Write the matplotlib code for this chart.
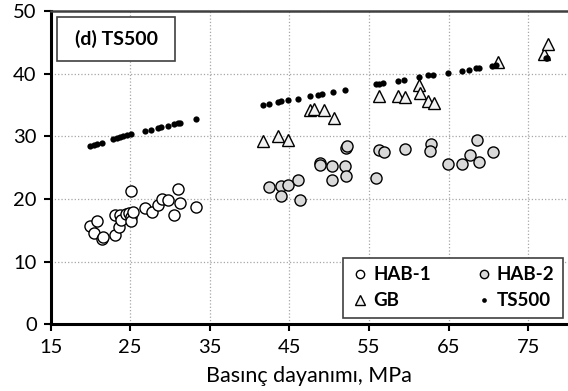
import matplotlib.pyplot as plt
from matplotlib.patches import Rectangle

plt.rcParams['font.family'] = ['Lato', 'DejaVu Sans']

# HAB-1 (open circles)
hab1_x = [20.0, 20.4, 20.8, 21.4, 21.6, 23.1, 23.1, 23.6, 23.7, 23.9, 24.5, 24.8,
          25.1, 25.1, 25.4, 25.1, 26.9, 27.7, 28.5, 28.95, 29.8, 30.5, 31.3, 31.0, 33.3]
hab1_y = [15.7, 14.5, 16.5, 13.6, 13.9, 14.3, 17.5, 15.6, 17.5, 16.7, 17.6, 17.8,
          17.2, 16.5, 17.9, 21.3, 18.5, 17.9, 19.1, 20.0, 19.8, 17.4, 19.4, 21.6, 18.8]

# HAB-2 (grey circles)
hab2_x = [42.5, 44.0, 44.0, 44.8, 46.1, 46.3, 48.8, 48.9, 50.4, 50.4, 52.0, 52.1, 52.1,
          52.2, 55.9, 56.3, 56.9, 59.5, 62.8, 62.7, 64.9, 66.7, 67.7, 68.8, 68.6, 70.6]
hab2_y = [21.9, 22.1, 20.5, 22.3, 23.1, 19.8, 25.8, 25.4, 25.3, 23.0, 25.2, 23.7, 28.1,
          28.5, 23.4, 27.9, 27.5, 28.0, 28.8, 27.6, 25.6, 25.6, 27.1, 25.9, 29.5, 27.5]

# GB (triangles)
gb_x = [41.7, 43.6, 44.8, 47.6, 48.1, 49.3, 50.6, 56.3, 58.7, 59.5, 61.3, 61.4,
        62.4, 63.2, 71.2, 77.0, 77.5]
gb_y = [29.3, 30.0, 29.4, 34.3, 34.4, 34.3, 32.9, 36.4, 36.5, 36.3, 38.3, 36.9,
        35.6, 35.3, 41.9, 43.2, 44.7]

# TS500 (small dots)
ts_x = [19.96, 20.4, 20.8, 21.4, 22.9, 23.3, 23.7, 24.1, 24.6, 25.1, 26.9, 27.6, 28.5,
        28.9, 29.7, 30.5, 31.0, 31.2, 33.3, 41.7, 42.5, 43.6, 44.0, 44.8, 46.1, 47.6,
        48.6, 49.1, 50.5, 51.95, 55.9, 56.3, 56.8, 58.7, 59.4, 61.3, 62.4, 63.0, 64.9,
        66.7, 67.6, 68.5, 68.8, 70.5, 71.0, 77.2, 77.4]
ts_y = [28.4, 28.6, 28.8, 29.0, 29.6, 29.7, 29.9, 30.1, 30.2, 30.4, 30.8, 31.0, 31.3,
        31.5, 31.7, 32.0, 32.1, 32.2, 32.8, 35.0, 35.2, 35.5, 35.6, 35.8, 36.0, 36.5,
        36.7, 36.8, 37.1, 37.5, 38.4, 38.4, 38.5, 38.9, 39.1, 39.5, 39.8, 39.9, 40.2,
        40.5, 40.7, 40.9, 41.0, 41.3, 41.4, 42.5, 42.6]

x_ticks = [15, 25, 35, 45, 55, 65, 75]
y_ticks = [0, 10, 20, 30, 40, 50]

fig = plt.figure(figsize=(5.68, 3.91), dpi=100)
ax = fig.add_axes([0.089, 0.171, 0.911, 0.8])

h1, = ax.plot(hab1_x, hab1_y, 'o', ms=8, mfc='white', mec='black', mew=1.0, label='HAB-1')
h2, = ax.plot(hab2_x, hab2_y, 'o', ms=8, mfc='#d9d9d9', mec='black', mew=1.0, label='HAB-2')
h3, = ax.plot(gb_x, gb_y, '^', ms=9, mfc='#f2f2f2', mec='black', mew=1.0, label='GB')
h4, = ax.plot(ts_x, ts_y, 'o', ms=4.5, mfc='black', mec='black', mew=0, label='TS500')

ax.set_xlim(15, 80)
ax.set_ylim(0, 50)
ax.set_xticks(x_ticks)
ax.set_yticks(y_ticks)
ax.grid(True, linestyle=':', color='#a6a6a6', linewidth=0.9)
ax.set_axisbelow(True)
ax.tick_params(direction='out', length=5, width=1.5, labelsize=14.5)
ax.tick_params(axis='x', pad=6)
ax.tick_params(axis='y', pad=5)
ax.set_xlabel('Basınç dayanımı, MPa', fontsize=15.5, labelpad=7)

for s in ['left', 'bottom']:
    ax.spines[s].set_linewidth(2.2)
    ax.spines[s].set_color('black')
ax.spines['top'].set_linewidth(1.8)
ax.spines['top'].set_color('#404040')
ax.spines['right'].set_visible(False)

ax.add_patch(Rectangle((0.013, 0.842), 0.228, 0.14, transform=ax.transAxes,
                       facecolor='white', edgecolor='#404040', lw=1.2, zorder=5))
ax.text(0.127, 0.912, '(d) TS500', transform=ax.transAxes, ha='center', va='center',
        fontsize=14, fontweight='bold', zorder=6)

leg = ax.legend([h1, h3, h2, h4], ['HAB-1', 'GB', 'HAB-2', 'TS500'], ncol=2,
                loc='lower right', bbox_to_anchor=(0.99, 0.02), borderaxespad=0,
                fancybox=False, edgecolor='#404040', framealpha=1, markerscale=0.75,
                handletextpad=0.2, handlelength=1.0, columnspacing=2.3,
                prop={'weight': 'bold', 'size': 13.5}, borderpad=0.45, labelspacing=0.5)
leg.get_frame().set_linewidth(1.2)

plt.savefig('out.png', dpi=100)
